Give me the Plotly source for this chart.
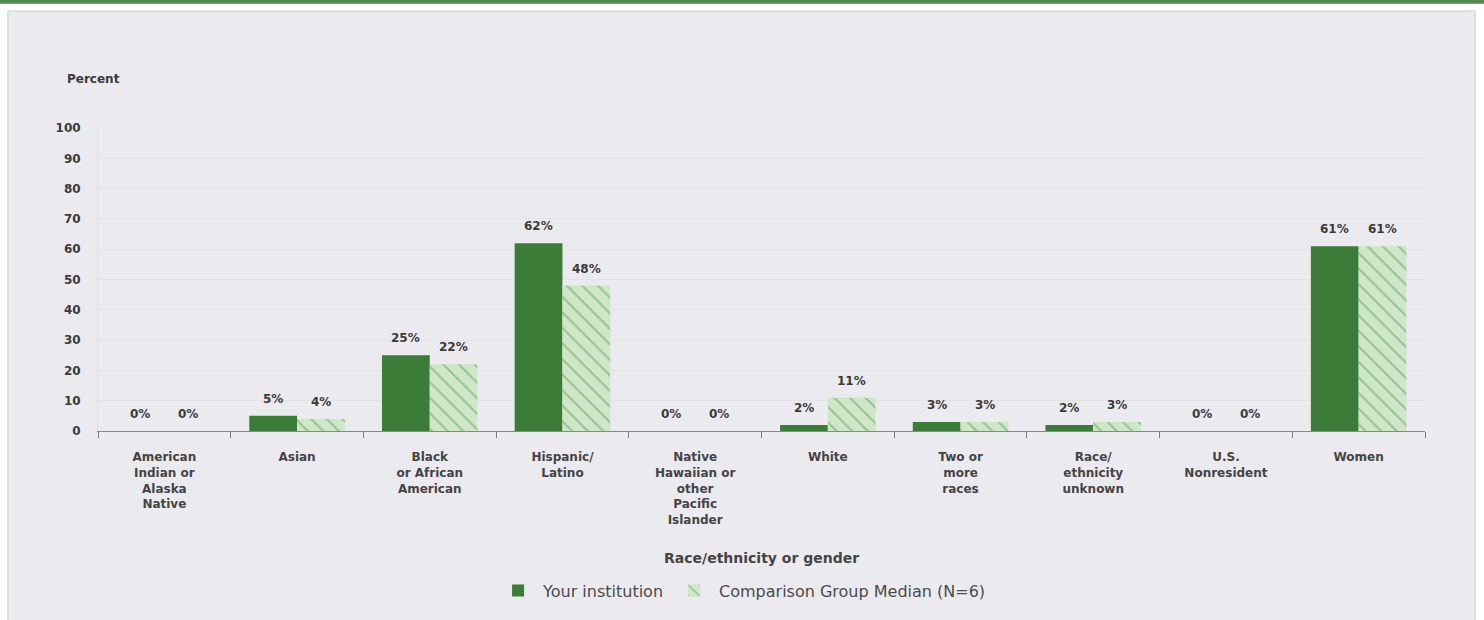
import plotly.graph_objects as go

categories = [
    "American<br>Indian or<br>Alaska<br>Native",
    "Asian",
    "Black<br>or African<br>American",
    "Hispanic/<br>Latino",
    "Native<br>Hawaiian or<br>other<br>Pacific<br>Islander",
    "White",
    "Two or<br>more<br>races",
    "Race/<br>ethnicity<br>unknown",
    "U.S.<br>Nonresident",
    "Women",
]
your_institution = [0, 5, 25, 62, 0, 2, 3, 2, 0, 61]
comparison_median = [0, 4, 22, 48, 0, 11, 3, 3, 0, 61]
y_ticks = [0, 10, 20, 30, 40, 50, 60, 70, 80, 90, 100]

FONT = "DejaVu Sans, Verdana, sans-serif"
DARK = "#3b7c38"
LIGHT = "#cde7c7"
HATCH = "#5f9e58"
TXT = "#3a3a3a"

fig = go.Figure()
fig.add_trace(go.Bar(
    x=categories, y=your_institution, name="Your institution",
    marker=dict(color=DARK, line=dict(width=0)),
))
fig.add_trace(go.Bar(
    x=categories, y=comparison_median, name="Comparison Group Median (N=6)",
    marker=dict(color=LIGHT, line=dict(width=0),
                pattern=dict(shape="\\", fgcolor=HATCH, bgcolor=LIGHT, size=11, solidity=0.18)),
))

annotations = []
for series, shift in ((your_institution, -24), (comparison_median, 24)):
    for cat, v in zip(categories, series):
        annotations.append(dict(
            x=cat, y=v, xref="x", yref="y", text=f"{v}%", showarrow=False,
            xshift=shift, yshift=8, yanchor="bottom",
            font=dict(family=FONT, size=12, color=TXT, weight="bold"),
        ))

annotations.append(dict(
    text="Percent", xref="paper", yref="paper", x=-0.0245, y=1.163,
    xanchor="left", yanchor="middle", showarrow=False,
    font=dict(family=FONT, size=12, color=TXT, weight="bold"),
))
annotations.append(dict(
    text="Race/ethnicity or gender", xref="paper", yref="paper", x=0.5, y=-0.418,
    xanchor="center", yanchor="middle", showarrow=False,
    font=dict(family=FONT, size=14, color="#444444", weight="bold"),
))

shapes = [
    dict(type="rect", xref="paper", yref="paper", x0=-0.0679, x1=1.0378, y0=-0.7, y1=1.386,
         fillcolor="#ebebef", line=dict(color="#cfcfd3", width=1), layer="below"),
    dict(type="rect", xref="paper", yref="paper", x0=-0.0739, x1=1.0445, y0=1.410, y1=1.425,
         fillcolor="#4e8a4a", line=dict(width=0), layer="below"),
]

fig.update_layout(
    width=1484, height=620,
    margin=dict(l=98, r=59, t=128, b=186),
    paper_bgcolor="white",
    plot_bgcolor="#f7f7f7",
    barmode="group", bargap=0.28, bargroupgap=0,
    font=dict(family=FONT, size=12, color=TXT),
    annotations=annotations,
    shapes=shapes,
    showlegend=True,
    legend=dict(orientation="h", x=0.485, xanchor="center", y=-0.527, yanchor="middle",
                font=dict(family=FONT, size=16, color="#4a4a4a"),
                bgcolor="rgba(0,0,0,0)", itemwidth=40),
)
fig.update_xaxes(
    type="category", tickson="boundaries", ticks="outside", ticklen=6,
    tickcolor="#777777", showline=True, linecolor="#888888", linewidth=1,
    tickfont=dict(family=FONT, size=12, color="#444444", weight="bold"), showgrid=False,
    ticklabelstandoff=15,
)
fig.update_yaxes(
    range=[0, 100], tickvals=y_ticks, showgrid=True, gridcolor="#e3e3e3", gridwidth=1,
    zeroline=False, showline=True, linecolor="#dedede", ticks="", ticklabelstandoff=14,
    tickfont=dict(family=FONT, size=12, color=TXT, weight="bold"),
)

fig.write_html(
    "out.html",
    config={"displayModeBar": False},
    post_script="document.body.style.margin='0px';window.dispatchEvent(new Event('resize'));",
)
